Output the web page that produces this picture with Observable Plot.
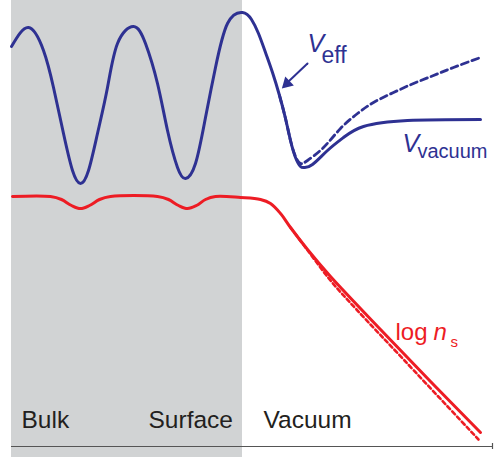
<!DOCTYPE html>
<html>
<head>
<meta charset="utf-8">
<script src="https://cdn.jsdelivr.net/npm/d3@7"></script>
<script src="https://cdn.jsdelivr.net/npm/@observablehq/plot@0.6"></script>
<style>
  html, body { margin: 0; padding: 0; background: #ffffff; }
  #chart svg { display: block; }
</style>
</head>
<body>
<div id="chart"></div>
<script>
// Position along the surface normal (arbitrary units, bulk on the left)
const surfaceEdge = 231;
const axisEnd = 481;

// Effective potential V_eff (solid): bulk oscillations, surface barrier, image-like tail
const vEffZ = [0, 17, 32, 42, 52, 61, 69, 77, 86, 96, 106, 122, 134, 146, 156, 166, 174, 184, 194, 204, 216, 231,
               240, 247, 254, 261, 268, 274, 279, 284, 289, 293, 301, 316, 332, 352, 396, 469];
const vEffE = [400, 419, 396, 359, 313, 276, 263, 276, 313, 359, 403, 420, 403, 363, 316, 279, 268, 283, 329, 379, 423, 434,
               427, 413, 394, 374, 351, 328, 306, 289, 280, 279, 282, 296, 309, 320, 326, 327];

// Vacuum potential (dashed) departing from V_eff outside the surface
const vVacZ = [268, 274, 279, 284, 289, 296, 312, 329, 346, 362, 382, 402, 422, 442, 469];
const vVacE = [351, 328, 306, 290, 283, 286, 299, 318, 333, 344, 354, 363, 371, 379, 389];

// Logarithm of the surface density n_s (solid) and its asymptotic decay (dashed)
const logNsZ = [1, 39, 50, 60, 69, 78, 88, 99, 146, 157, 167, 176, 185, 194, 204, 229, 249, 259, 269, 279, 296, 319, 369, 419, 469];
const logNsV = [250, 250, 247, 241, 238, 241, 247, 250, 250, 247, 241, 238, 241, 247, 250, 249, 247, 243, 233, 219, 197, 170, 117, 65, 14];
const logNsTailZ = [279, 297, 319, 345, 393, 467];
const logNsTailV = [219, 195, 166, 137, 86, 7];

// Region names along the axis
const regionNames = ["Bulk", "Surface", "Vacuum"];
const regionZ = [10, 137, 252];

// Pointer from the V_eff label to the curve
const pointerZ = [296, 277];
const pointerE = [383, 365];
const pointerHead = {z: 275.5, e: 363};

const blue = "#2e3192";
const red = "#ed1c24";
const ink = "#231f20";
const font = "Liberation Sans, Arial, Helvetica, sans-serif";

const zip = (xs, ys) => xs.map((x, i) => ({x, y: ys[i]}));
const vEff = zip(vEffZ, vEffE);
const vVac = zip(vVacZ, vVacE);
const logNs = zip(logNsZ, logNsV);
const logNsTail = zip(logNsTailZ, logNsTailV);
const regions = regionNames.map((name, i) => ({name, x: regionZ[i], y: 19}));
const pointer = zip(pointerZ, pointerE);

const label = (text, x, y, opts) => Plot.text([{text, x, y}], {
  x: "x", y: "y", text: "text", textAnchor: "start", lineAnchor: "bottom",
  fontFamily: font, ...opts
});

const chart = Plot.plot({
  width: 494,
  height: 457,
  marginLeft: 11,
  marginRight: 3,
  marginTop: 0,
  marginBottom: 11,
  style: {background: "#ffffff"},
  x: {domain: [0, 480], axis: null},
  y: {domain: [0, 446], axis: null},
  marks: [
    // bulk + surface region
    Plot.rect([{x1: 0, x2: surfaceEdge, y1: -11, y2: 446}], {x1: "x1", x2: "x2", y1: "y1", y2: "y2", fill: "#d1d3d4"}),
    // position axis
    Plot.ruleY([0], {x1: 0, x2: axisEnd, stroke: "#555555", strokeWidth: 1.2}),
    Plot.ruleX([axisEnd], {y1: -3, y2: 3, stroke: "#555555", strokeWidth: 1.2}),
    // density
    Plot.line(logNsTail, {x: "x", y: "y", stroke: red, strokeWidth: 2.6, strokeDasharray: "4,3", curve: "catmull-rom"}),
    Plot.line(logNs, {x: "x", y: "y", stroke: red, strokeWidth: 3, curve: "catmull-rom"}),
    // potentials
    Plot.line(vVac, {x: "x", y: "y", stroke: blue, strokeWidth: 2.8, strokeDasharray: "7,4", curve: "natural"}),
    Plot.line(vEff, {x: "x", y: "y", stroke: blue, strokeWidth: 3, curve: "natural"}),
    // pointer
    Plot.line(pointer, {x: "x", y: "y", stroke: blue, strokeWidth: 2}),
    Plot.dot([pointerHead], {x: "z", y: "e", symbol: "triangle", r: 4.6, fill: blue, stroke: "none", rotate: 226}),
    // labels
    label("V", 296, 395, {fontSize: 25, fontStyle: "italic", fill: blue}),
    label("eff", 310, 384, {fontSize: 23, fill: blue}),
    label("V", 391, 295, {fontSize: 25, fontStyle: "italic", fill: blue}),
    label("vacuum", 406, 289, {fontSize: 20, fill: blue}),
    label("log", 384, 107, {fontSize: 24, fill: red}),
    label("n", 422, 107, {fontSize: 24, fontStyle: "italic", fill: red}),
    label("s", 439, 100, {fontSize: 15, fill: red}),
    Plot.text(regions, {x: "x", y: "y", text: "name", textAnchor: "start", lineAnchor: "bottom",
      fontFamily: font, fontSize: 24.5, fill: ink})
  ]
});

document.getElementById("chart").appendChild(chart);
</script>
</body>
</html>
